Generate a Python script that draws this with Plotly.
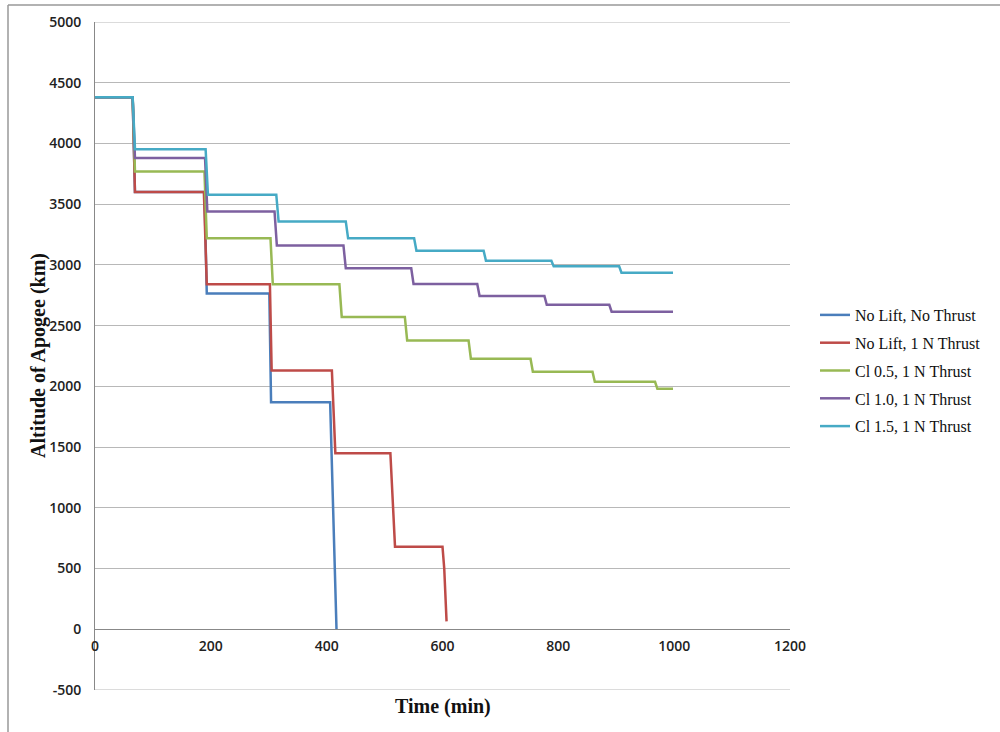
import plotly.graph_objects as go

# ---- data ----
names = ["No Lift, No Thrust", "No Lift, 1 N Thrust", "Cl 0.5, 1 N Thrust",
         "Cl 1.0, 1 N Thrust", "Cl 1.5, 1 N Thrust"]
colors = ["#4a7ebb", "#be4b48", "#98b954", "#7d60a0", "#46aac5"]

t_nolift_nothrust = [0, 65, 69, 189, 193, 301, 304, 406, 417]
a_nolift_nothrust = [4380, 4380, 3600, 3600, 2765, 2765, 1870, 1870, 0]

t_nolift_thrust = [0, 65, 69, 188, 193, 302, 305, 409, 415, 510, 518, 600, 603, 607]
a_nolift_thrust = [4380, 4380, 3600, 3600, 2840, 2840, 2130, 2130, 1450, 1450, 680, 680, 500, 65]

t_cl05 = [0, 65, 69, 189, 193, 303, 307, 422, 426, 535, 539, 645, 649, 752, 756, 859, 863, 967, 971, 998]
a_cl05 = [4380, 4380, 3770, 3770, 3220, 3220, 2840, 2840, 2572, 2572, 2378, 2378, 2228, 2228,
          2120, 2120, 2038, 2038, 1980, 1980]

t_cl10 = [0, 65, 69, 190, 194, 310, 314, 429, 433, 546, 550, 660, 664, 776, 780, 888, 892, 998]
a_cl10 = [4380, 4380, 3880, 3880, 3440, 3440, 3160, 3160, 2972, 2972, 2843, 2843, 2745, 2745,
          2672, 2672, 2615, 2615]

t_cl15 = [0, 65, 69, 191, 195, 313, 317, 433, 437, 551, 555, 671, 675, 788, 792, 905, 909, 998]
a_cl15 = [4380, 4380, 3953, 3953, 3578, 3578, 3358, 3358, 3219, 3219, 3117, 3117, 3035, 3035,
          2988, 2988, 2936, 2936]

series_t = [t_nolift_nothrust, t_nolift_thrust, t_cl05, t_cl10, t_cl15]
series_a = [a_nolift_nothrust, a_nolift_thrust, a_cl05, a_cl10, a_cl15]

x_ticks = [0, 200, 400, 600, 800, 1000, 1200]
y_ticks = [-500, 0, 500, 1000, 1500, 2000, 2500, 3000, 3500, 4000, 4500, 5000]
y_tick_text = [str(v) for v in y_ticks]

# ---- figure ----
fig = go.Figure()
for i, (n, c) in enumerate(zip(names, colors)):
    fig.add_trace(go.Scatter(x=series_t[i], y=series_a[i], mode="lines", name=n,
                             line=dict(color=c, width=2.5), legendgroup="g%d" % i))

L, R, T, B = 95, 210, 22, 42
PW, PH = 1000 - L - R, 732 - T - B
ymin, ymax = -500, 5000
zero_pos = (0 - ymin) / (ymax - ymin)

tick_font = dict(family="Open Sans, Liberation Sans, sans-serif", size=14, color="#222", weight=600)
title_font = dict(family="Liberation Serif, Times New Roman, serif", size=20, color="#111")

grid_shapes = [dict(type="line", xref="paper", yref="y", x0=0, x1=1, y0=v, y1=v,
                    line=dict(color="#b8b8b8", width=1), layer="below")
               for v in (ymin, ymax)]

fig.update_layout(
    width=1000, height=732,
    margin=dict(l=L, r=R, t=T, b=B),
    paper_bgcolor="white", plot_bgcolor="white",
    showlegend=True,
    legend=dict(x=(815 - L) / PW, y=(690 - 298) / PH, xanchor="left", yanchor="top",
                font=dict(family="Liberation Serif, Times New Roman, serif", size=16, color="#111"),
                tracegroupgap=4, bgcolor="rgba(0,0,0,0)", borderwidth=0),
    xaxis=dict(range=[0, 1200], tickvals=x_ticks, showgrid=False, zeroline=False,
               showline=True, linecolor="#888", linewidth=1,
               anchor="free", position=zero_pos, tickfont=tick_font,
               ticks="", ticklabelstandoff=4),
    yaxis=dict(range=[ymin, ymax], tickvals=y_ticks, ticktext=y_tick_text,
               showgrid=True, gridcolor="#b8b8b8",
               gridwidth=1, zeroline=False, showline=True, linecolor="#888", linewidth=1,
               tickfont=tick_font, ticks="", ticklabelstandoff=10),
    annotations=[
        dict(text="<b>Time (min)</b>", xref="paper", yref="paper", x=0.5, y=(690 - 706) / PH,
             xanchor="center", yanchor="middle", showarrow=False, font=title_font),
        dict(text="<b>Altitude of Apogee (km)</b>", xref="paper", yref="paper",
             x=(38 - L) / PW, y=0.5, xanchor="center", yanchor="middle", textangle=-90,
             showarrow=False, font=title_font),
    ],
    shapes=grid_shapes + [
        dict(type="line", xref="paper", yref="paper", x0=(8 - L) / PW, x1=(1005 - L) / PW,
             y0=(690 - 5) / PH, y1=(690 - 5) / PH, line=dict(color="#999", width=1.5)),
        dict(type="line", xref="paper", yref="paper", x0=(8 - L) / PW, x1=(8 - L) / PW,
             y0=(690 - 5) / PH, y1=(690 - 740) / PH, line=dict(color="#999", width=1.5)),
    ],
)

fig.write_html("out.html")
